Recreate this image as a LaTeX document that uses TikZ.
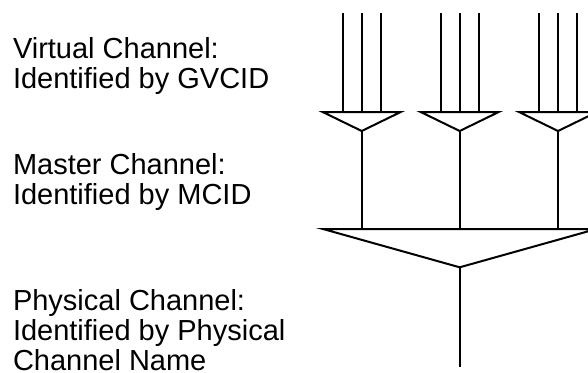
\documentclass[tikz,border=0pt]{standalone}
\usepackage{fontspec}
\setmainfont{Liberation Sans}
\begin{document}
\begin{tikzpicture}[x=1pt,y=-1pt,line width=2pt,
  lbl/.style={anchor=base west,inner sep=0pt,align=left,font=\fontsize{29}{30}\selectfont},
  wire/.style={draw=black,line width=2pt}]
\useasboundingbox (0,0) rectangle (588,372);
\clip (0,0) rectangle (588,372);
% labels
\node[lbl] (vc) at (12,88.3) {Virtual Channel:\\Identified by GVCID};
\node[lbl] (mc) at (12,204.5) {Master Channel:\\Identified by MCID};
\node[lbl] (pc) at (12,370) {Physical Channel:\\Identified by Physical\\Channel Name};
% big triangle coordinates
\coordinate (bigL) at (323,229);
\coordinate (bigR) at (596.4,229);
\coordinate (bigA) at (459.7,267.3);
\coordinate (out) at (459.7,367.3);
% virtual channel groups
\foreach \i/\cx in {1/361.7,2/459.7,3/558} {
  \coordinate (tl\i) at (\cx-39,112);
  \coordinate (tr\i) at (\cx+39,112);
  \coordinate (ta\i) at (\cx,131);
  \coordinate (mb\i) at (\cx,229);
  \foreach \k/\dx in {a/-19,b/0,c/19} {
    \coordinate (in\i\k) at (\cx+\dx,13);
    \coordinate (en\i\k) at (\cx+\dx,112);
    \draw[wire] (in\i\k) -- (en\i\k);
  }
  \draw[wire] (tl\i) -- (tr\i) -- (ta\i) -- cycle;
  \draw[wire] (ta\i) -- (mb\i);
}
\draw[wire] (bigL) -- (bigR) -- (bigA) -- cycle;
\draw[wire] (bigA) -- (out);
\end{tikzpicture}
\end{document}
